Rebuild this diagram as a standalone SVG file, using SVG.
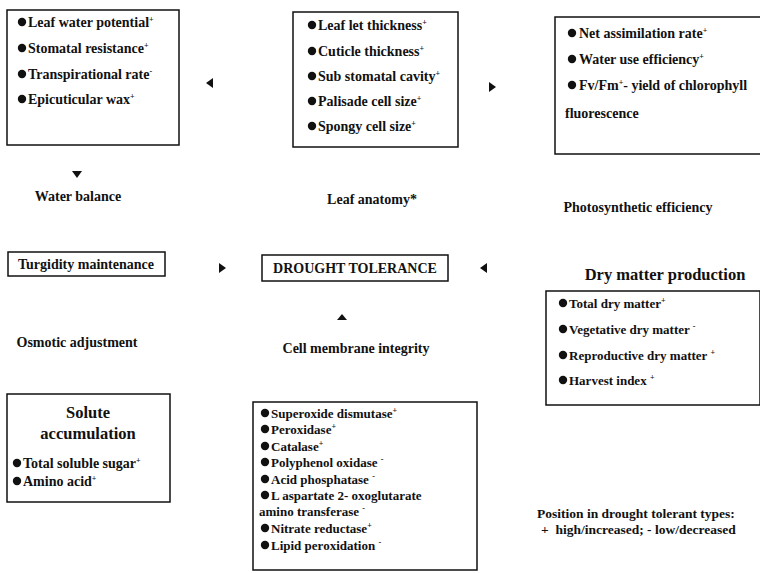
<svg xmlns="http://www.w3.org/2000/svg" width="760" height="573" viewBox="0 0 760 573">
<style>
.box{fill:#fff;stroke:#111;stroke-width:1.5}
.t{font-family:"Liberation Serif","Times New Roman",serif;font-weight:bold;font-size:14px;fill:#111}
.s{font-size:13px}
.l{font-size:13.5px}
.h{font-size:16.5px}
.c{text-anchor:middle}
.b{fill:#111}
.ar{fill:#111}
</style>
<defs>
<circle id="dot" r="4.2" class="b"/>
</defs>
<rect width="760" height="573" fill="#fff"/>

<g id="water-box">
<rect class="box" x="7" y="10" width="172" height="135"/>
<use href="#dot" x="22" y="22"/><text class="t" x="28" y="27">Leaf water potential<tspan dy="-5" font-size="8">+</tspan></text>
<use href="#dot" x="22" y="48"/><text class="t" x="28" y="53">Stomatal resistance<tspan dy="-5" font-size="8">+</tspan></text>
<use href="#dot" x="22" y="74"/><text class="t" x="28" y="79">Transpirational rate<tspan dy="-5" font-size="8">-</tspan></text>
<use href="#dot" x="22" y="99"/><text class="t" x="28" y="104">Epicuticular wax<tspan dy="-5" font-size="8">+</tspan></text>
</g>

<g id="anatomy-box">
<rect class="box" x="293" y="12" width="165" height="135"/>
<use href="#dot" x="312" y="25"/><text class="t" x="318" y="30">Leaf let thickness<tspan dy="-5" font-size="8">+</tspan></text>
<use href="#dot" x="312" y="51"/><text class="t" x="318" y="56">Cuticle thickness<tspan dy="-5" font-size="8">+</tspan></text>
<use href="#dot" x="312" y="76"/><text class="t" x="318" y="81">Sub stomatal cavity<tspan dy="-5" font-size="8">+</tspan></text>
<use href="#dot" x="312" y="101"/><text class="t" x="318" y="106">Palisade cell size<tspan dy="-5" font-size="8">+</tspan></text>
<use href="#dot" x="312" y="126"/><text class="t" x="318" y="131">Spongy cell size<tspan dy="-5" font-size="8">+</tspan></text>
</g>

<g id="photo-box">
<rect class="box" x="555" y="17" width="210" height="137"/>
<use href="#dot" x="572" y="33"/><text class="t" x="579" y="38">Net assimilation rate<tspan dy="-5" font-size="8">+</tspan></text>
<use href="#dot" x="572" y="59"/><text class="t" x="579" y="64">Water use efficiency<tspan dy="-5" font-size="8">+</tspan></text>
<use href="#dot" x="572" y="85"/><text class="t" x="579" y="90">Fv/Fm<tspan dy="-5" font-size="8">+</tspan><tspan dy="5">- yield of chlorophyll</tspan></text>
<text class="t" x="565" y="118">fluorescence</text>
</g>

<g id="water-balance"><text class="t c" x="78" y="201">Water balance</text></g>
<g id="leaf-anatomy"><text class="t c" x="372" y="204">Leaf anatomy*</text></g>
<g id="photosynthetic-efficiency"><text class="t c" x="638" y="212">Photosynthetic efficiency</text></g>

<g id="turgidity">
<rect class="box" x="8" y="252" width="157" height="24"/>
<text class="t c" x="86" y="269">Turgidity maintenance</text>
</g>

<g id="drought-tolerance">
<rect class="box" x="262" y="255" width="186" height="26"/>
<text class="t c" x="355" y="273">DROUGHT TOLERANCE</text>
</g>

<g id="dry-matter">
<text class="t h c" x="665" y="280">Dry matter production</text>
<rect class="box" x="546" y="291" width="214" height="114"/>
<use href="#dot" x="563" y="303"/><text class="t s" x="569" y="308">Total dry matter<tspan dy="-5" font-size="8">+</tspan></text>
<use href="#dot" x="563" y="329"/><text class="t s" x="569" y="334">Vegetative dry matter <tspan dy="-5" font-size="8">-</tspan></text>
<use href="#dot" x="563" y="355"/><text class="t s" x="569" y="360">Reproductive dry matter <tspan dy="-5" font-size="8">+</tspan></text>
<use href="#dot" x="563" y="380"/><text class="t s" x="569" y="385">Harvest index <tspan dy="-5" font-size="8">+</tspan></text>
</g>

<g id="osmotic-adjustment"><text class="t c" x="77" y="347">Osmotic adjustment</text></g>
<g id="cell-membrane"><text class="t c" x="356" y="353">Cell membrane integrity</text></g>

<g id="solute">
<rect class="box" x="7" y="394" width="163" height="108"/>
<text class="t h c" x="88" y="418">Solute</text>
<text class="t h c" x="88" y="439">accumulation</text>
<use href="#dot" x="17" y="463"/><text class="t" x="23" y="468">Total soluble  sugar<tspan dy="-5" font-size="8">+</tspan></text>
<use href="#dot" x="17" y="481"/><text class="t" x="23" y="486">Amino acid<tspan dy="-5" font-size="8">+</tspan></text>
</g>

<g id="enzymes">
<rect class="box" x="253" y="402" width="224" height="168"/>
<use href="#dot" x="265" y="413"/><text class="t s" x="271" y="418">Superoxide dismutase<tspan dy="-5" font-size="8">+</tspan></text>
<use href="#dot" x="265" y="429"/><text class="t s" x="271" y="434">Peroxidase<tspan dy="-5" font-size="8">+</tspan></text>
<use href="#dot" x="265" y="446"/><text class="t s" x="271" y="451">Catalase<tspan dy="-5" font-size="8">+</tspan></text>
<use href="#dot" x="265" y="462"/><text class="t s" x="271" y="467">Polyphenol oxidase <tspan dy="-5" font-size="8">-</tspan></text>
<use href="#dot" x="265" y="479"/><text class="t s" x="271" y="484">Acid phosphatase <tspan dy="-5" font-size="8">-</tspan></text>
<use href="#dot" x="265" y="495"/><text class="t s" x="271" y="500">L aspartate 2- oxoglutarate</text>
<text class="t s" x="259" y="516">amino transferase <tspan dy="-5" font-size="8">-</tspan></text>
<use href="#dot" x="265" y="528"/><text class="t s" x="271" y="533">Nitrate reductase<tspan dy="-5" font-size="8">+</tspan></text>
<use href="#dot" x="265" y="545"/><text class="t s" x="271" y="550">Lipid peroxidation <tspan dy="-5" font-size="8">-</tspan></text>
</g>

<g id="legend">
<text class="t l" x="537" y="518">Position in drought tolerant types:</text>
<text class="t l" x="541" y="534" xml:space="preserve">+  high/increased; - low/decreased</text>
</g>

<g id="connectors">
<polygon class="ar" points="206,83 213,78 213,88"/>
<polygon class="ar" points="496,87 489,82 489,92"/>
<polygon class="ar" points="72,171 82,171 77,178"/>
<polygon class="ar" points="226,268 219,263 219,273"/>
<polygon class="ar" points="480,268 487,263 487,273"/>
<polygon class="ar" points="337,320 347,320 342,314"/>
</g>
</svg>
